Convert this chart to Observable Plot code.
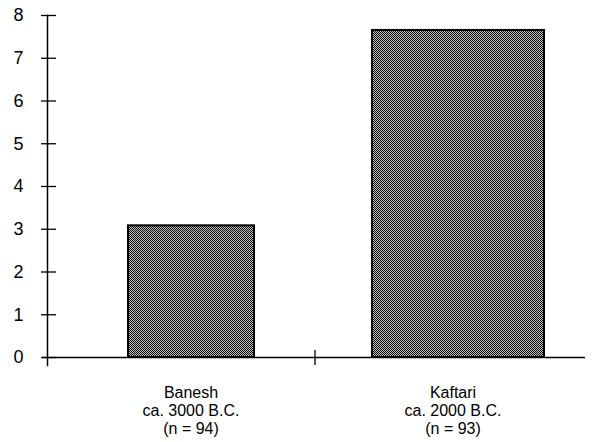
<!DOCTYPE html>
<html>
<head>
<meta charset="utf-8">
<script src="https://cdn.jsdelivr.net/npm/d3@7"></script>
<script src="https://cdn.jsdelivr.net/npm/@observablehq/plot@0.6"></script>
<style>
  html, body { margin: 0; padding: 0; background: #fff; }
  #chart { width: 593px; height: 442px; }
</style>
</head>
<body>
<div id="chart"></div>
<script>
const categories = ["Banesh", "Kaftari"];
const values = [3.08, 7.65];
const periods = ["ca. 3000 B.C.", "ca. 2000 B.C."];
const counts = ["(n = 94)", "(n = 93)"];
const yTicks = [0, 1, 2, 3, 4, 5, 6, 7, 8];

const data = categories.map((c, i) => ({
  category: c,
  value: values[i],
  label: `${c}\n${periods[i]}\n${counts[i]}`
}));

const font = "'Liberation Sans', Arial, Helvetica, sans-serif";

const barStyle = {fill: "url(#stipple)", stroke: "#000", strokeWidth: 2};

const chart = Plot.plot({
  width: 593,
  height: 442,
  marginLeft: 47,
  marginRight: 8,
  marginTop: 15,
  marginBottom: 85,
  style: {fontFamily: font, background: "#fff", color: "#000"},
  x: {domain: categories, padding: 0, axis: null, label: null},
  y: {domain: [0, 8], axis: null, label: null},
  marks: [
    Plot.barY(data.filter(d => d.category === categories[0]), {
      x: "category", y: "value", insetLeft: 81, insetRight: 62, ...barStyle
    }),
    Plot.barY(data.filter(d => d.category === categories[1]), {
      x: "category", y: "value", insetLeft: 56, insetRight: 41, ...barStyle
    }),
    Plot.ruleY([0], {stroke: "#000", strokeWidth: 1.5, insetLeft: -5}),
    Plot.frame({anchor: "left", stroke: "#000", strokeWidth: 1.5, insetBottom: -8}),
    Plot.axisY({ticks: yTicks, tickSize: 15, dx: 9, text: null, label: null, stroke: "#000", strokeWidth: 1.3}),
    Plot.axisY({ticks: yTicks, tickSize: 0, tickPadding: 24, label: null, fontSize: 18, fill: "#000"}),
    Plot.axisX({ticks: [categories[0]], tickSize: 15, dy: -7, dx: 133, text: null, label: null, stroke: "#000", strokeWidth: 1.3}),
    Plot.text(data.filter(d => d.category === categories[0]), {
      x: "category", text: "label", frameAnchor: "bottom", dy: 28, dx: 9,
      lineAnchor: "top", lineHeight: 1.12, fontSize: 16, fill: "#000"
    }),
    Plot.text(data.filter(d => d.category === categories[1]), {
      x: "category", text: "label", frameAnchor: "bottom", dy: 28, dx: 2,
      lineAnchor: "top", lineHeight: 1.12, fontSize: 16, fill: "#000"
    })
  ]
});

const ns = "http://www.w3.org/2000/svg";
const defs = document.createElementNS(ns, "defs");
defs.innerHTML = `
  <pattern id="stipple" patternUnits="userSpaceOnUse" width="2" height="2">
    <rect x="0" y="0" width="2" height="2" fill="#bdbdbd"></rect>
    <rect x="0" y="0" width="1" height="1" fill="#111"></rect>
    <rect x="1" y="1" width="1" height="1" fill="#111"></rect>
  </pattern>`;
chart.insertBefore(defs, chart.firstChild);

document.getElementById("chart").appendChild(chart);
</script>
</body>
</html>
